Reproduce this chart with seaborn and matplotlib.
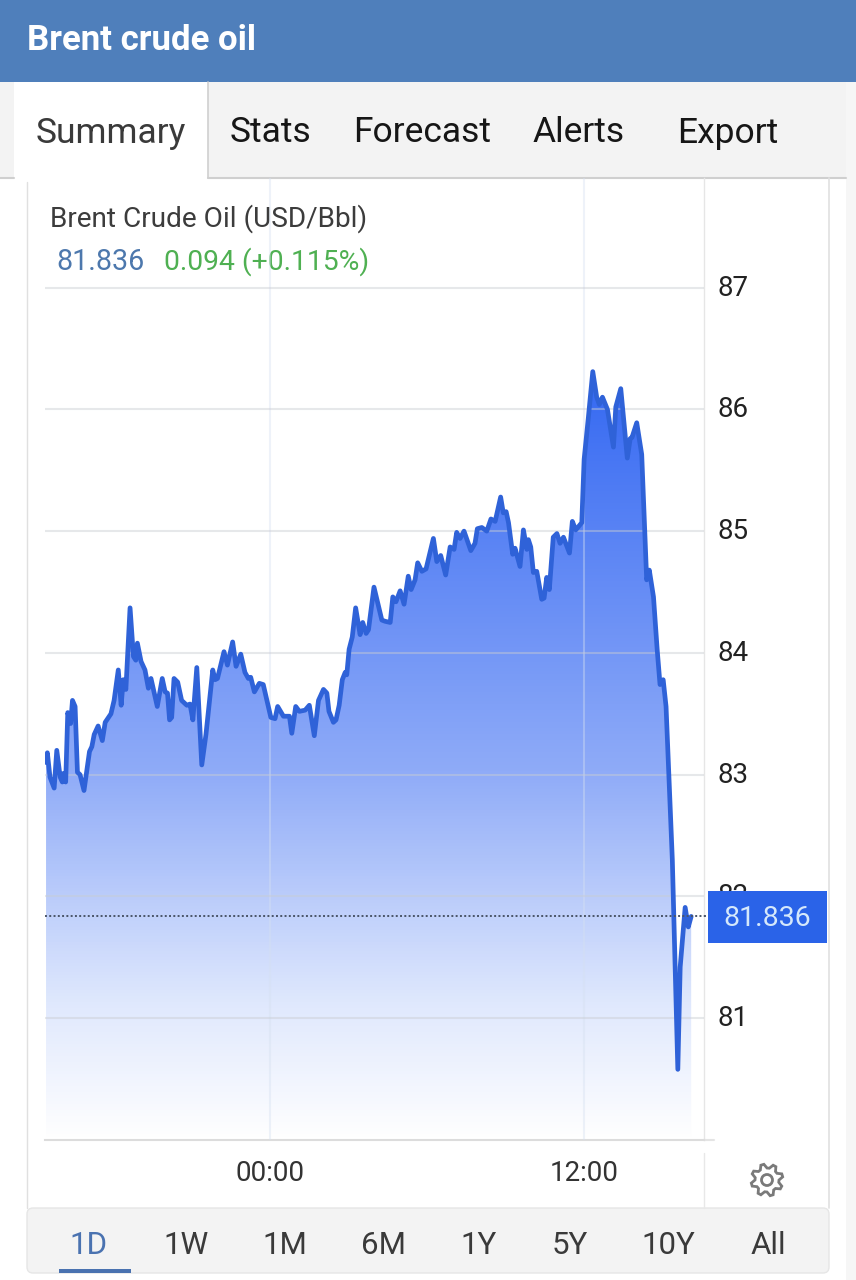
import numpy as np
import pandas as pd
import matplotlib
matplotlib.use("Agg")
import matplotlib.pyplot as plt
import seaborn as sns
from matplotlib.colors import LinearSegmentedColormap
from matplotlib.patches import Rectangle, Polygon, Circle, FancyBboxPatch
from matplotlib.transforms import ScaledTranslation

# hours relative to midnight
hours = [
    -8.56, -8.51, -8.41, -8.25, -8.15, -8.02, -7.94, -7.90, -7.81, -7.73, -7.62, -7.55, -7.45, -7.36, -7.26, -7.11,
    -6.90, -6.81, -6.72, -6.57, -6.41, -6.30, -6.08, -5.96, -5.80, -5.69, -5.61, -5.51, -5.35, -5.22, -5.13, -5.07,
    -4.93, -4.78, -4.65, -4.55, -4.31, -4.12, -4.01, -3.92, -3.84, -3.76, -3.67, -3.53, -3.38, -3.18, -3.06, -2.95,
    -2.80, -2.61, -2.45, -2.19, -2.10, -2.01, -1.76, -1.63, -1.43, -1.30, -1.12, -0.96, -0.83, -0.74, -0.60, -0.41,
    -0.26, 0.03, 0.19, 0.29, 0.51, 0.74, 0.83, 0.98, 1.12, 1.34, 1.50, 1.69, 1.85, 2.04, 2.17, 2.25,
    2.42, 2.52, 2.64, 2.76, 2.87, 2.93, 3.02, 3.14, 3.27, 3.44, 3.54, 3.67, 3.76, 3.97, 4.27, 4.39,
    4.59, 4.69, 4.81, 4.97, 5.12, 5.28, 5.39, 5.54, 5.64, 5.80, 5.96, 6.24, 6.37, 6.52, 6.71, 6.88,
    7.03, 7.13, 7.26, 7.41, 7.67, 7.83, 7.92, 8.09, 8.28, 8.44, 8.60, 8.81, 8.91, 9.02, 9.11, 9.27,
    9.36, 9.55, 9.68, 9.81, 9.87, 9.96, 10.06, 10.19, 10.38, 10.47, 10.57, 10.67, 10.82, 10.96, 11.08, 11.21,
    11.44, 11.55, 11.68, 11.91, 12.00, 12.16, 12.33, 12.48, 12.58, 12.70, 12.89, 13.12, 13.21, 13.40, 13.65, 13.76,
    13.83, 14.01, 14.20, 14.39, 14.49, 14.65, 14.79, 14.90, 15.02, 15.13, 15.37, 15.58, 15.67, 15.86, 15.98, 16.09,
]
prices = [
    83.10, 83.18, 82.98, 82.89, 83.20, 82.98, 82.94, 83.01, 82.94, 83.51, 83.42, 83.61, 83.56, 83.02, 83.00, 82.87,
    83.19, 83.23, 83.33, 83.40, 83.28, 83.43, 83.50, 83.61, 83.86, 83.57, 83.78, 83.70, 84.37, 83.97, 83.94, 84.08,
    83.93, 83.86, 83.71, 83.79, 83.56, 83.79, 83.68, 83.67, 83.45, 83.47, 83.79, 83.76, 83.61, 83.57, 83.58, 83.45,
    83.88, 83.08, 83.33, 83.86, 83.78, 83.79, 84.01, 83.90, 84.09, 83.89, 83.99, 83.84, 83.79, 83.80, 83.68, 83.75,
    83.74, 83.47, 83.46, 83.56, 83.48, 83.48, 83.34, 83.56, 83.52, 83.53, 83.57, 83.32, 83.61, 83.70, 83.67, 83.52,
    83.43, 83.45, 83.57, 83.78, 83.84, 83.82, 84.03, 84.13, 84.37, 84.15, 84.25, 84.16, 84.19, 84.54, 84.27, 84.26,
    84.25, 84.46, 84.42, 84.51, 84.40, 84.63, 84.52, 84.60, 84.74, 84.67, 84.69, 84.94, 84.75, 84.80, 84.64, 84.87,
    84.85, 84.99, 84.94, 85.00, 84.84, 84.90, 85.02, 85.03, 85.00, 85.10, 85.08, 85.28, 85.15, 85.16, 85.07, 84.81,
    84.86, 84.71, 85.01, 84.85, 84.93, 84.87, 84.66, 84.67, 84.44, 84.45, 84.62, 84.52, 84.95, 84.98, 84.90, 84.95,
    84.82, 85.08, 85.01, 85.07, 85.59, 85.93, 86.31, 86.10, 86.04, 86.10, 86.00, 85.69, 86.02, 86.17, 85.60, 85.76,
    85.77, 85.89, 85.63, 84.60, 84.68, 84.46, 84.03, 83.74, 83.78, 83.56, 82.30, 80.58, 81.42, 81.91, 81.75, 81.836,
]
y_ticks = [81, 82, 83, 84, 85, 86, 87]
x_ticks = [0, 12]
x_labels = ["00:00", "12:00"]
tabs = ["Summary", "Stats", "Forecast", "Alerts", "Export"]
periods = ["1D", "1W", "1M", "6M", "1Y", "5Y", "10Y", "All"]

sns.set_theme(style="white")
plt.rcParams["font.family"] = ["Roboto", "DejaVu Sans"]

LINE = "#2f62d8"
BORDER = "#e0e0e0"

fig = plt.figure(figsize=(8.56, 12.8), dpi=100, facecolor="white")


def overlay(z):
    # whole-figure axes in pixel coordinates for the page around the chart
    a = fig.add_axes([0, 0, 1, 1], zorder=z)
    a.set_xlim(0, 856)
    a.set_ylim(1280, 0)
    a.axis("off")
    return a


back = overlay(0)
back.add_patch(Rectangle((846, 0), 10, 1280, color="#f6f6f6", lw=0))
back.add_patch(Rectangle((0, 0), 856, 82, color="#4f7fbb", lw=0))
back.add_patch(Rectangle((0, 82), 846, 96, color="#f3f3f3", lw=0))
back.add_patch(Rectangle((14, 82), 194, 100, color="white", lw=0))
back.plot([208, 208], [82, 178], color="#cfcfcf", lw=1.2)
back.plot([208, 846], [178, 178], color="#cfcfcf", lw=1.5)
back.plot([0, 14], [178, 178], color="#cfcfcf", lw=1.5)
back.plot([27, 27], [182, 1208], color=BORDER, lw=1)
back.plot([829, 829], [178, 1208], color=BORDER, lw=1.2)
back.plot([704, 704], [1153, 1208], color="#e8e8e8", lw=1)
back.plot([704, 714], [1140, 1140], color="#e4e4e4", lw=1.5)
back.add_patch(FancyBboxPatch((27, 1208), 802, 65, boxstyle="round,pad=0,rounding_size=6",
                              fc="#f3f3f3", ec="#e6e6e6", lw=1))
back.add_patch(Rectangle((59, 1269), 72, 4, color="#4a72b0", lw=0))

back.text(27, 40, "Brent crude oil", color="white", fontsize=25, fontweight="bold", va="center")
tab_x = [111, 271, 422, 579, 728]
for name, x in zip(tabs, tab_x):
    back.text(x, 133, name, color="#3a3a3a" if name == "Summary" else "#161616",
              fontsize=25.5, ha="center", va="center")
back.text(50, 219, "Brent Crude Oil (USD/Bbl)", color="#3c3c3c", fontsize=20.2, va="center")
back.text(56, 262, "81.836", color="#4d78ad", fontsize=20.6, va="center")
back.text(164, 262, "0.094 (+0.115%)", color="#4fb052", fontsize=20.3, va="center")

period_x = [89, 186, 285, 384, 479, 570, 668, 768]
for name, x in zip(periods, period_x):
    back.text(x, 1245, name, color="#4a72b0" if name == "1D" else "#3a3a3a",
              fontsize=22.5, ha="center", va="center")

# settings gear
angles = np.linspace(0, 2 * np.pi, 33)[:-1] + np.pi / 8 / 2
radii = np.tile([12, 16, 16, 12], 8)
back.add_patch(Polygon(np.column_stack([767 + radii * np.cos(angles), 1180 + radii * np.sin(angles)]),
                       closed=True, fc="none", ec="#7a7a7a", lw=2))
back.add_patch(Circle((767, 1180), 5.5, fc="none", ec="#7a7a7a", lw=2))

df = pd.DataFrame({"hours": hours, "price": prices})

ax = fig.add_axes([45 / 856, 1 - 1140 / 1280, 659 / 856, 962 / 1280], zorder=1)
ax.patch.set_alpha(0)

# blue fade under the line
fade = LinearSegmentedColormap.from_list(
    "fade", [(0, "#ffffff"), (0.18, "#dfe8fd"), (0.48, "#8fabf8"), (1, "#3468f2")])
area = ax.fill_between(df["hours"], df["price"], 80, color="none", lw=0)
grad = ax.imshow(np.linspace(1, 0, 256).reshape(-1, 1), cmap=fade, aspect="auto", zorder=1,
                 extent=[df["hours"].min(), df["hours"].max(), 80, df["price"].max()])
grad.set_clip_path(area.get_paths()[0], transform=ax.transData)

sns.lineplot(data=df, x="hours", y="price", ax=ax, color=LINE, linewidth=3.4, zorder=3,
             solid_joinstyle="round", solid_capstyle="round")
ax.axhline(prices[-1], color="#4a5568", lw=1.4, ls=(0, (1, 1.2)), zorder=3)

ax.set_xlim(-8.60, 16.58)
ax.set_ylim(80, 87.9)
ax.set_xlabel("")
ax.set_ylabel("")
ax.set_xticks(x_ticks, x_labels)
ax.set_yticks(y_ticks)
ax.yaxis.tick_right()
ax.tick_params(axis="y", length=6, width=1.2, color="#e4e4e4", pad=4, labelsize=20, labelcolor="#222222", right=True)
ax.tick_params(axis="x", length=0, pad=14.5, labelsize=20, labelcolor="#333333")
# labels sit a little above their gridlines in the original
for lab in ax.get_yticklabels():
    lab.set_transform(lab.get_transform() + ScaledTranslation(0, 2.5 / 100, fig.dpi_scale_trans))
ax.set_axisbelow(False)
ax.grid(axis="y", color="#c9ccd2", alpha=0.45, lw=1.5)
ax.grid(axis="x", color="#d5e0f0", alpha=0.4, lw=1.5)
sns.despine(ax=ax, top=True, left=True, right=False, bottom=False)
ax.spines["right"].set_color("#e6e6e6")
ax.spines["right"].set_linewidth(1)
ax.spines["bottom"].set_color("#dcdcdc")
ax.spines["bottom"].set_linewidth(1.5)

# price tag hides most of the 82 tick label
front = overlay(2)
front.plot([704, 708], [916, 916], color="#4a5568", lw=1.4, ls=(0, (1, 1.2)))
front.add_patch(Rectangle((708, 891), 119, 52, color="#2a63e8", lw=0))
front.text(767.5, 919, "81.836", color="#d5e8fb", fontsize=20.5, ha="center", va="center")

fig.savefig("out.png", dpi=100)
